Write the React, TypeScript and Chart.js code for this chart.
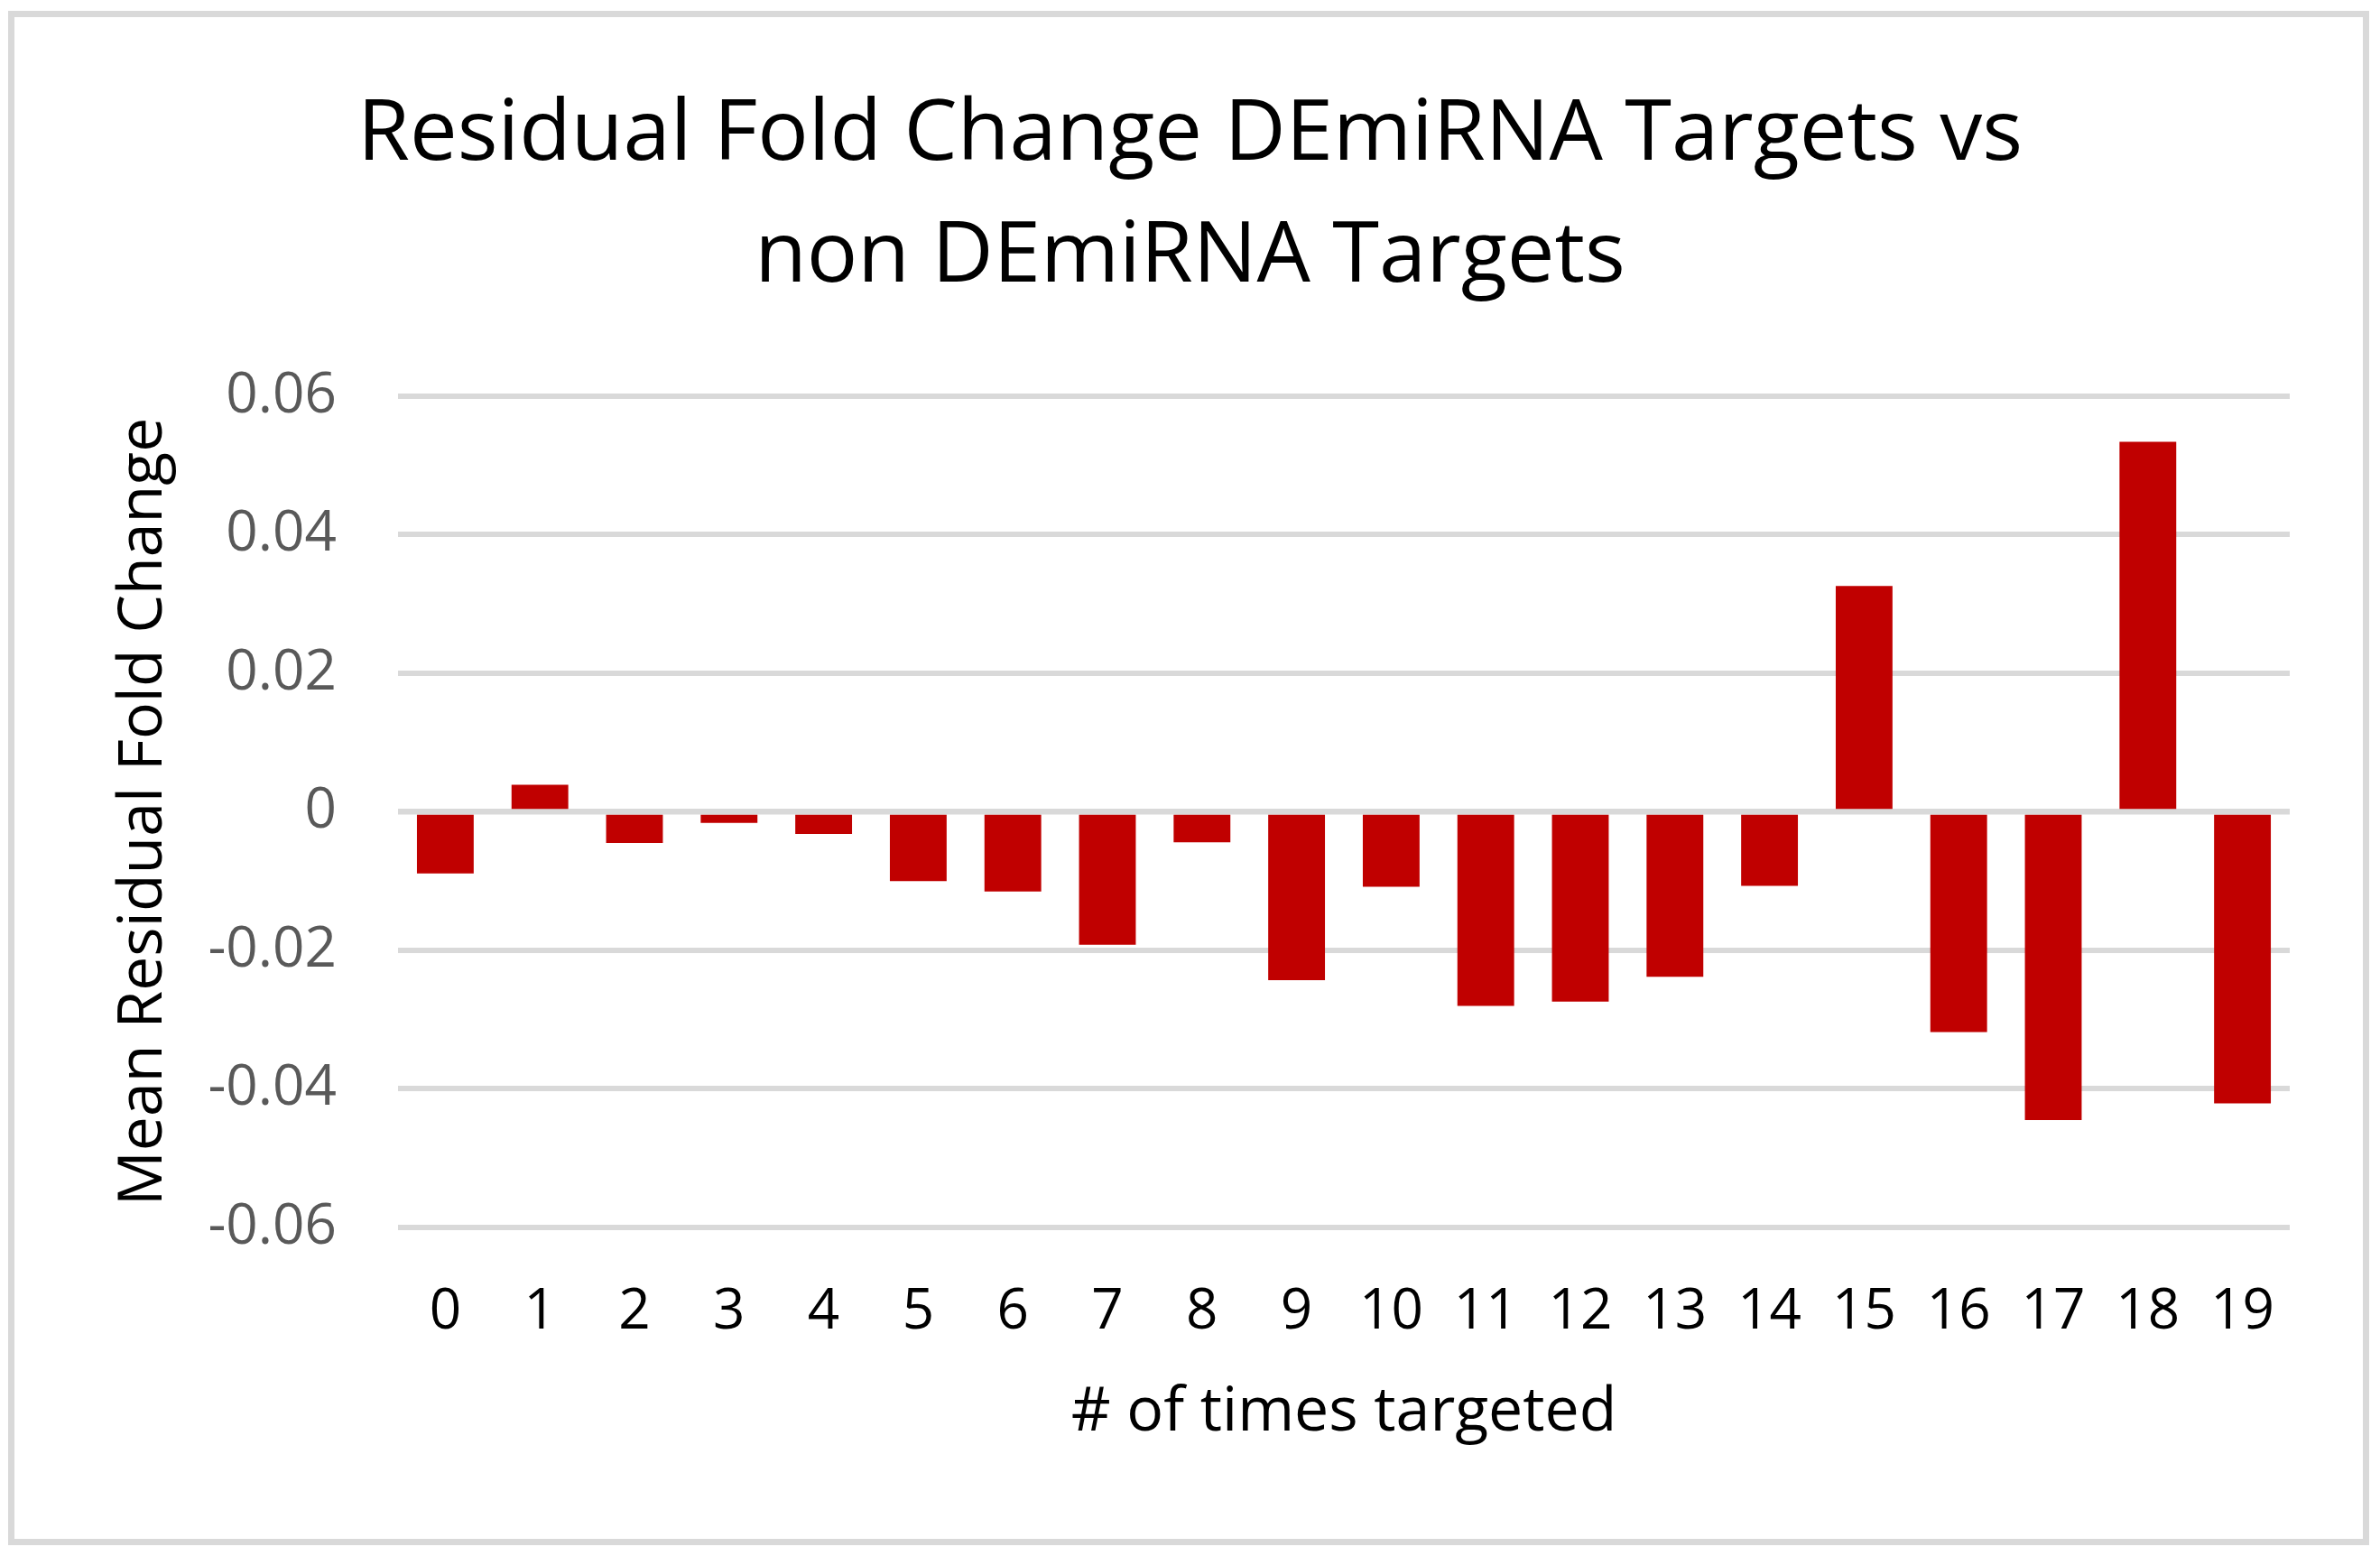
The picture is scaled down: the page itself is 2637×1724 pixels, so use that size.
import React, { useEffect, useRef } from "react";
import { Chart, registerables } from "chart.js";

Chart.register(...registerables);

const categories = ["0", "1", "2", "3", "4", "5", "6", "7", "8", "9", "10", "11", "12", "13", "14", "15", "16", "17", "18", "19"];
const meanResidual = [-0.0089, 0.0039, -0.0045, -0.0016, -0.0032, -0.0100, -0.0115, -0.0192, -0.0044, -0.0243, -0.0108, -0.0280, -0.0274, -0.0238, -0.0107, 0.0326, -0.0318, -0.0445, 0.0534, -0.0421];
const titleLines = ["Residual Fold Change DEmiRNA Targets vs", "non DEmiRNA Targets"];
const xTitle = "# of times targeted";
const yTitle = "Mean Residual Fold Change";
const yMin = -0.06;
const yMax = 0.06;
const yStep = 0.02;

const GRID = "#d9d9d9";

const framePlugin = {
  id: "frame",
  beforeDraw(chart: any) {
    const ctx = chart.ctx;
    ctx.save();
    ctx.fillStyle = "#ffffff";
    ctx.fillRect(0, 0, chart.width, chart.height);
    ctx.strokeStyle = GRID;
    ctx.lineWidth = 7;
    ctx.strokeRect(12.5, 15.5, chart.width - 15 - 12.5 - 0.5, chart.height - 12 - 15.5 - 3.5);
    ctx.restore();
  },
  afterDatasetsDraw(chart: any) {
    const ctx = chart.ctx;
    const y = chart.scales.y.getPixelForValue(0);
    const { left, right } = chart.chartArea;
    ctx.save();
    ctx.strokeStyle = GRID;
    ctx.lineWidth = 6;
    ctx.beginPath();
    ctx.moveTo(left, y);
    ctx.lineTo(right, y);
    ctx.stroke();
    ctx.restore();
  },
};

export default function App() {
  const ref = useRef<HTMLCanvasElement | null>(null);

  useEffect(() => {
    if (!ref.current) return;
    const chart = new Chart(ref.current, {
      type: "bar",
      data: {
        labels: categories,
        datasets: [
          {
            data: meanResidual,
            backgroundColor: "#c00000",
            borderWidth: 0,
            barPercentage: 0.6,
            categoryPercentage: 1,
          },
        ],
      },
      options: {
        animation: false,
        responsive: true,
        maintainAspectRatio: false,
        devicePixelRatio: 1,
        layout: { padding: { left: 100, right: 100, top: 0, bottom: 0 } },
        plugins: {
          legend: { display: false },
          tooltip: { enabled: false },
          title: {
            display: true,
            text: titleLines,
            color: "#000000",
            font: { family: "'Open Sans'", size: 94, weight: "normal", lineHeight: 1.436 },
            padding: { top: 83, bottom: 86 },
          },
        },
        scales: {
          x: {
            grid: { display: false, drawTicks: false },
            border: { display: false },
            ticks: {
              color: "#000000",
              font: { family: "'Open Sans'", size: 62 },
              padding: 57,
              maxRotation: 0,
              autoSkip: false,
            },
            title: {
              display: true,
              text: xTitle,
              color: "#000000",
              font: { family: "'Open Sans'", size: 68 },
              padding: { top: 0, bottom: 118 },
            },
            afterFit: (scale: any) => {
              scale.height = 364;
            },
          },
          y: {
            min: yMin,
            max: yMax,
            grid: { color: GRID, lineWidth: 6, drawTicks: false },
            border: { display: false },
            ticks: {
              stepSize: yStep,
              color: "#595959",
              font: { family: "'Open Sans'", size: 62 },
              padding: 68,
              callback: (v: any) => {
                const n = Number(v);
                if (Math.abs(n) < 1e-9) return "0";
                return n.toFixed(2);
              },
            },
            title: {
              display: true,
              text: yTitle,
              color: "#000000",
              font: { family: "'Open Sans'", size: 68 },
              padding: { top: 19, bottom: 0 },
            },
            afterFit: (scale: any) => {
              scale.width = 341;
            },
          },
        },
      },
      plugins: [framePlugin],
    });
    return () => chart.destroy();
  }, []);

  return (
    <div style={{ position: "fixed", left: 0, top: 0, width: "2637px", height: "1724px", background: "#fff" }}>
      <canvas ref={ref} />
    </div>
  );
}
